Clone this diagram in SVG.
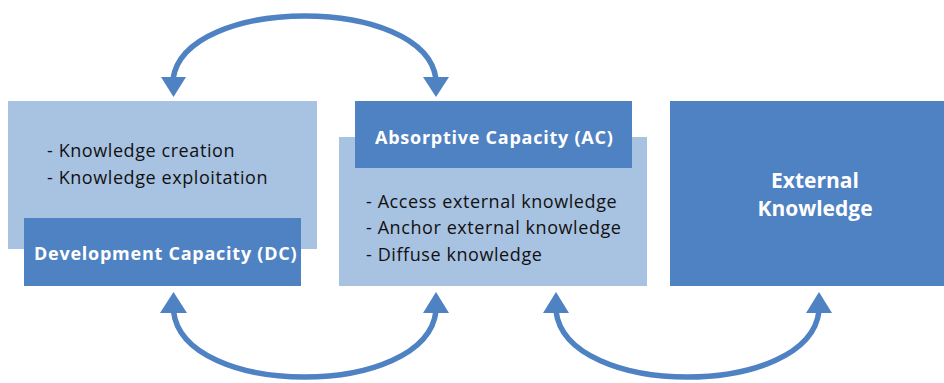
<svg xmlns="http://www.w3.org/2000/svg" width="944" height="383" viewBox="0 0 944 383">
<style>
.light{fill:#A8C2E2}
.dark{fill:#4F82C2}
.list{font-family:"Open Sans","Noto Sans",sans-serif;font-size:18px;letter-spacing:0.58px;fill:#111}
.title{font-family:"Open Sans","Noto Sans",sans-serif;font-size:18px;letter-spacing:0.75px;font-weight:bold;fill:#fff}
.big{font-family:"Open Sans","Noto Sans",sans-serif;font-size:21px;font-weight:bold;fill:#fff;text-anchor:middle}
.conn{fill:none;stroke:#4F82C2;stroke-width:5.5}
.head{fill:#4F82C2}
</style>
<rect width="944" height="383" fill="#fff"/>
<g id="dc">
<rect class="light" x="8" y="101" width="309" height="148"/>
<text class="list" x="47" y="157">- Knowledge creation</text>
<text class="list" x="47" y="184">- Knowledge exploitation</text>
<rect class="dark" x="24" y="218" width="277" height="68"/>
<text class="title" x="34" y="260">Development Capacity (DC)</text>
</g>
<g id="ac">
<rect class="light" x="339" y="137" width="308" height="149"/>
<rect class="dark" x="355" y="101" width="277" height="67"/>
<text class="title" x="375" y="144">Absorptive Capacity (AC)</text>
<text class="list" x="366" y="208">- Access external knowledge</text>
<text class="list" x="366" y="234">- Anchor external knowledge</text>
<text class="list" x="366" y="261">- Diffuse knowledge</text>
</g>
<g id="ext">
<rect class="dark" x="670" y="101" width="274" height="185"/>
<text class="big" x="815" y="188">External</text>
<text class="big" x="815" y="216">Knowledge</text>
</g>
<g id="connectors">
<path class="conn" d="M173,79 C185,-5 425,-5 436,79"/>
<polygon class="head" points="161,77 186,77 173.5,97"/>
<polygon class="head" points="423,77 449,77 436,97"/>
<path class="conn" d="M173.5,311 C183,399 426,399 436,311"/>
<polygon class="head" points="160,313 187,313 173.5,292"/>
<polygon class="head" points="423,313 449,313 436,292"/>
<path class="conn" d="M556,311 C566,399 809,399 819,311"/>
<polygon class="head" points="543,313 569,313 556,292"/>
<polygon class="head" points="806,313 832,313 819,292"/>
</g>
</svg>
